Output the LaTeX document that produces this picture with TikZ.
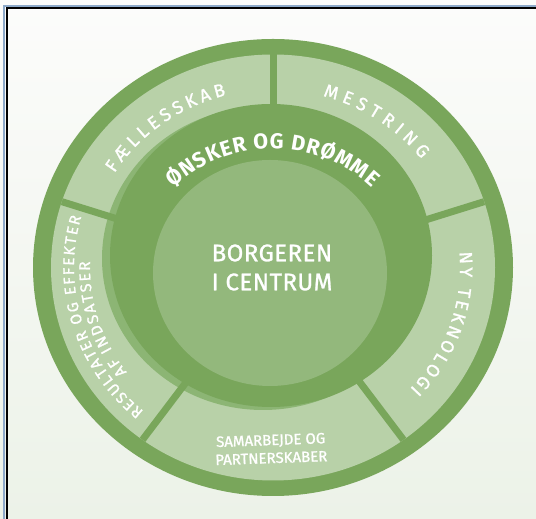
\documentclass[tikz,border=0pt]{standalone}
\usepackage{fontspec}
\setmainfont{Fira Sans}
\newfontfamily\corefont[LetterSpace=2,FakeBold=1]{Fira Sans}
\newfontfamily\bandfont[FakeBold=1.2]{Fira Sans}
\newcommand\bandtype{\bandfont\fontsize{18}{20}\selectfont}
\newcommand\wishtype{\bfseries\fontsize{21.5}{23}\selectfont}
\newcommand\smalltype{\bandfont\fontsize{15.5}{17}\selectfont}
\usetikzlibrary{decorations.text}
\definecolor{ringgreen}{HTML}{79A65B}
\definecolor{bandgreen}{HTML}{B8D1A8}
\definecolor{midgreen}{HTML}{8CB574}
\definecolor{corelight}{HTML}{93B87C}
\definecolor{bgtop}{HTML}{FCFCFB}
\definecolor{bgbottom}{HTML}{ECF2E8}
\definecolor{frameblue}{HTML}{8DA9C9}

\begin{document}
\begin{tikzpicture}[x=1pt,y=1pt,
  seam/.style={line width=7pt,ringgreen},
  bandtext/.style={decorate,decoration={text along path,text align=fit to path,
    text color=white,text={#1}}},
  label/.style={text=white,align=center,inner sep=0pt}]
  \shade[top color=bgtop,bottom color=bgbottom] (0,0) rectangle (536,519);
  \useasboundingbox (0,0) rectangle (536,519);
  \draw[line width=2.5pt,frameblue] (4,0) -- (4,513) -- (536,513);
  \draw[line width=2pt,black] (6.5,0) -- (6.5,510.5) -- (536,510.5);

  \begin{scope}[shift={(273,251.5)}]
    \fill[ringgreen] (0,0) ellipse[x radius=240,y radius=228.5];
    \fill[bandgreen] (0,0) ellipse[x radius=222,y radius=213];
    \fill[midgreen] (-10,9) ellipse[x radius=161,y radius=151.5];
    \foreach \a in {18,90,162,234,306}
      \draw[seam] (0,0) -- (\a:222 and 213);
    \fill[ringgreen] (-2,12) ellipse[x radius=161,y radius=151.5];
    \fill[corelight] (-3,-5.5) ellipse[x radius=117,y radius=113];

    \path[bandtext={|\bandtype|FÆLLESSKAB}]
      (148:187 and 178) arc[start angle=148,end angle=104.5,x radius=187,y radius=178];
    \path[bandtext={|\bandtype|MESTRING}]
      (74.5:187 and 178) arc[start angle=74.5,end angle=37.5,x radius=187,y radius=178];
    \path[bandtext={|\bandtype|NY TEKNOLOGI}]
      (5:187 and 178) arc[start angle=5,end angle=-43,x radius=187,y radius=178];
    \path[bandtext={|\smalltype|RESULTATER OG EFFEKTER}]
      (229.5:199 and 189) arc[start angle=229.5,end angle=164.5,x radius=199,y radius=189];
    \path[bandtext={|\smalltype|AF INDSATSER}]
      (217:183 and 174) arc[start angle=217,end angle=178,x radius=183,y radius=174];
    \path[bandtext={|\wishtype|ØNSKER OG DRØMME}]
      ([shift={(-0.5,-23.6)}]133.5:144 and 142.5)
      arc[start angle=133.5,end angle=46.5,x radius=144,y radius=142.5];

    \node[label,font=\bandfont\fontsize{15}{18}\selectfont,rotate=2] (team) at (-2,-181.5)
      {SAMARBEJDE OG\\PARTNERSKABER};
    \node[label,font=\corefont\fontsize{24}{29}\selectfont] (core) at (-1,0)
      {BORGEREN\\I CENTRUM};
  \end{scope}
\end{tikzpicture}
\end{document}
